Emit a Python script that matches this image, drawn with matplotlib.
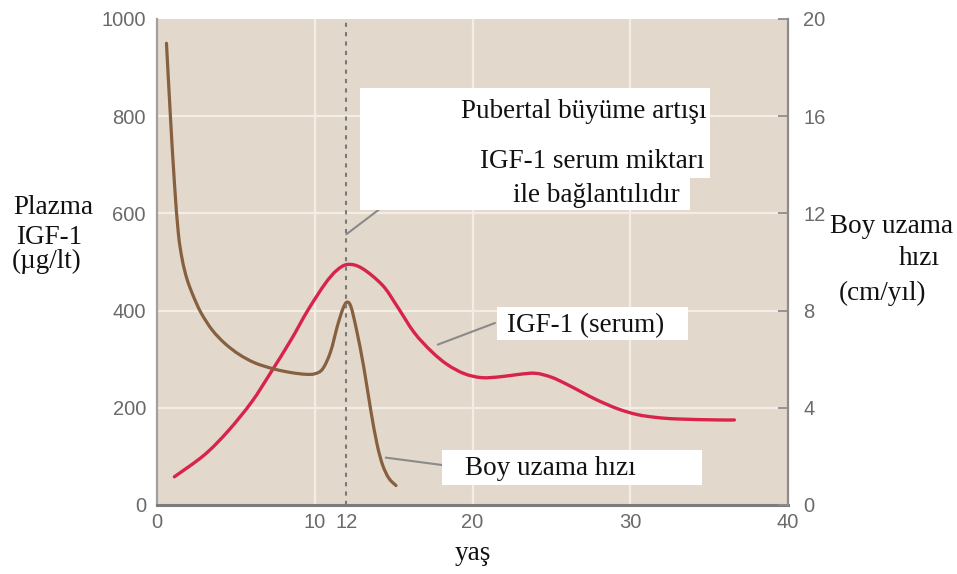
import matplotlib
matplotlib.use("Agg")
import matplotlib.pyplot as plt
from matplotlib.patches import Rectangle, PathPatch
from matplotlib.path import Path

# ---------------- data ----------------
age_growth = [0.6, 0.85, 1.1, 1.35, 1.6, 1.9, 2.3, 2.8, 3.5, 4.3, 5.2, 6.2, 7.4, 8.5,
              9.4, 10.0, 10.5, 11.0, 11.45, 11.8, 12.05, 12.3, 12.65, 13.1, 13.55,
              13.95, 14.3, 14.7, 15.15]
growth_rate = [19.0, 16.0, 13.3, 11.2, 10.1, 9.3, 8.6, 7.9, 7.2, 6.65, 6.2, 5.85, 5.6, 5.45,
               5.38, 5.4, 5.6, 6.3, 7.4, 8.1, 8.35, 8.15, 7.2, 5.7, 3.9,
               2.5, 1.65, 1.1, 0.8]

age_igf = [1.1, 3.0, 4.5, 6.0, 7.2, 8.5, 9.55, 10.65, 11.4, 12.1, 13.0, 14.3, 15.2,
           16.3, 17.4, 18.4, 19.5, 20.6, 21.8, 23.0, 24.0, 25.0, 26.0, 27.0, 27.9,
           29.2, 30.45, 31.7, 33.0, 35.6, 36.6]
igf_serum = [58, 103, 152, 212, 272, 340, 400, 455, 483, 495, 487, 452, 410,
             355, 316, 289, 270, 262, 264, 269, 271, 263, 248, 231, 216,
             198, 186, 180, 177, 175, 175]

x_ticks = [0, 10, 12, 20, 30, 40]
left_ticks = [0, 200, 400, 600, 800, 1000]
right_ticks = [0, 4, 8, 12, 16, 20]
puberty_age = 12

# ---------------- layout ----------------
W, H = 957, 574
fig = plt.figure(figsize=(W / 100, H / 100), dpi=100)
L, R, T, B = 157, 788, 19, 505
ax = fig.add_axes([L / W, 1 - B / H, (R - L) / W, (B - T) / H])
ax.set_facecolor("#e3d8cc")
ax2 = ax.twinx()

serif = ["Liberation Serif", "DejaVu Serif"]
sans = ["Liberation Sans", "DejaVu Sans"]
tick_col = "#6a6a6a"
spine_col = "#8c8c8c"

# grid
for v in [200, 400, 600, 800]:
    ax.axhline(v, color="#f4ede5", lw=1.6, zorder=0.5)
for v in [10, 20, 30]:
    ax.axvline(v, color="#f4ede5", lw=1.6, zorder=0.5)


def smooth_path(xs, ys):
    """Catmull-Rom curve through the data points, as cubic Bezier segments."""
    pts = list(zip(xs, ys))
    verts = [pts[0]]
    codes = [Path.MOVETO]
    n = len(pts)
    for i in range(n - 1):
        p0 = pts[i - 1] if i > 0 else pts[i]
        p1 = pts[i]
        p2 = pts[i + 1]
        p3 = pts[i + 2] if i + 2 < n else pts[i + 1]
        c1 = (p1[0] + (p2[0] - p0[0]) / 6, p1[1] + (p2[1] - p0[1]) / 6)
        c2 = (p2[0] - (p3[0] - p1[0]) / 6, p2[1] - (p3[1] - p1[1]) / 6)
        verts += [c1, c2, p2]
        codes += [Path.CURVE4] * 3
    return Path(verts, codes)


ax.add_patch(PathPatch(smooth_path(age_igf, igf_serum), facecolor="none",
                       edgecolor="#d8234b", lw=2.4, capstyle="round",
                       joinstyle="round", zorder=3))
ax2.add_patch(PathPatch(smooth_path(age_growth, growth_rate), facecolor="none",
                        edgecolor="#86603f", lw=2.3, capstyle="round",
                        joinstyle="round", zorder=3))
ax2.axvline(puberty_age, color="#7a7a7a", lw=1.5, ls=(0, (2, 2.5)), zorder=4)

ax.set_xlim(0, 40)
ax.set_ylim(0, 1000)
ax2.set_ylim(0, 20)
ax.set_xticks(x_ticks)
ax.set_yticks(left_ticks)
ax2.set_yticks(right_ticks)

for a in (ax, ax2):
    a.spines["top"].set_visible(False)
ax.spines["right"].set_visible(False)
ax2.spines["left"].set_visible(False)
ax2.spines["bottom"].set_visible(False)
ax.spines["left"].set_color("#a0a0a0")
ax.spines["left"].set_linewidth(1.6)
ax.spines["bottom"].set_color("#7c7c7c")
ax.spines["bottom"].set_linewidth(2.2)
ax2.spines["right"].set_color(spine_col)
ax2.spines["right"].set_linewidth(1.6)

ax.tick_params(axis="y", length=0, pad=8, labelsize=14.5, labelcolor=tick_col)
ax.tick_params(axis="x", length=0, pad=6, labelsize=14.5, labelcolor=tick_col)
ax2.tick_params(axis="y", direction="in", length=7, width=1.3, color=spine_col,
                pad=11, labelsize=14.5, labelcolor=tick_col)
for lab in ax.get_xticklabels() + ax.get_yticklabels() + ax2.get_yticklabels():
    lab.set_fontfamily(sans)


def fx(px):
    return px / W


def fy(py):
    return 1 - py / H


txt = dict(family=serif, fontsize=19.5, color="#111111")

# axis titles
fig.text(fx(13), fy(214), "Plazma", ha="left", va="baseline", **txt)
fig.text(fx(16), fy(244), "IGF-1", ha="left", va="baseline", **txt)
fig.text(fx(12), fy(268), "(µg/lt)", ha="left", va="baseline", **txt)

fig.text(fx(830), fy(233), "Boy uzama", ha="left", va="baseline", **txt)
fig.text(fx(940), fy(265), "hızı", ha="right", va="baseline", **txt)
fig.text(fx(839), fy(300), "(cm/yıl)", ha="left", va="baseline", **txt)

fig.text(fx(473), fy(560), "yaş", ha="center", va="baseline", **txt)

# leader lines
lead = dict(arrowstyle="-", color="#8a8a8a", lw=1.5, shrinkA=0, shrinkB=0)
ax.annotate("", xy=(puberty_age, 557), xycoords="data",
            xytext=(385, H - 205), textcoords="figure pixels", arrowprops=lead)
ax.annotate("", xy=(17.8, 330), xycoords="data",
            xytext=(495, H - 323), textcoords="figure pixels", arrowprops=lead)
ax2.annotate("", xy=(14.5, 1.95), xycoords="data",
             xytext=(442, H - 465), textcoords="figure pixels", arrowprops=lead)


def box(x0, y0, x1, y1):
    fig.add_artist(Rectangle((fx(x0), fy(y1)), (x1 - x0) / W, (y1 - y0) / H,
                             transform=fig.transFigure, facecolor="white",
                             edgecolor="none", zorder=5))


box(360, 88, 710, 178)
box(360, 177, 690, 210)
box(497, 307, 688, 340)
box(442, 450, 702, 485)

fig.text(fx(707), fy(118), "Pubertal büyüme artışı", ha="right", va="baseline", zorder=6, **txt)
fig.text(fx(704), fy(168), "IGF-1 serum miktarı", ha="right", va="baseline", zorder=6, **txt)
fig.text(fx(596), fy(202), "ile bağlantılıdır", ha="center", va="baseline", zorder=6, **txt)
fig.text(fx(586), fy(332), "IGF-1 (serum)", ha="center", va="baseline", zorder=6, **txt)
fig.text(fx(465), fy(475), "Boy uzama hızı", ha="left", va="baseline", zorder=6, **txt)

fig.savefig("out.png", dpi=100, facecolor="white")
